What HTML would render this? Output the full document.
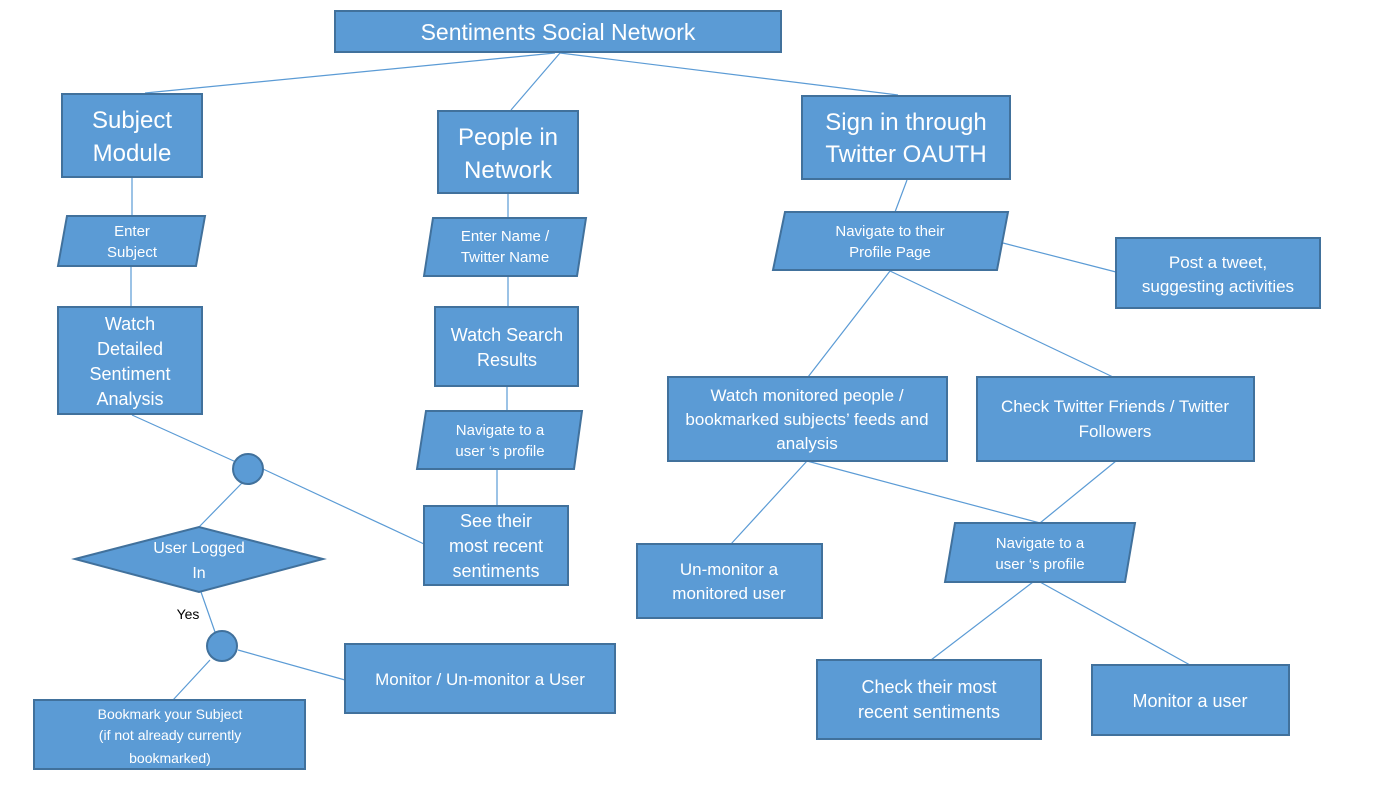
<!DOCTYPE html>
<html><head><meta charset="utf-8"><style>
html,body{margin:0;padding:0;background:#fff;width:1377px;height:796px;overflow:hidden}
svg text{font-family:"Liberation Sans",sans-serif;fill:#fff;text-anchor:middle}
</style></head><body>
<svg width="1377" height="796" viewBox="0 0 1377 796" xmlns="http://www.w3.org/2000/svg">
<g stroke="#5B9BD5" stroke-width="1.2" fill="none">
<line x1="145" y1="93" x2="555" y2="53"/>
<line x1="511" y1="110" x2="560" y2="53"/>
<line x1="898" y1="95" x2="560" y2="53"/>
<line x1="132" y1="178" x2="132" y2="216"/>
<line x1="131" y1="266" x2="131" y2="307"/>
<line x1="508" y1="194" x2="508" y2="218"/>
<line x1="508" y1="276" x2="508" y2="307"/>
<line x1="507" y1="386" x2="507" y2="411"/>
<line x1="497" y1="469" x2="497" y2="506"/>
<line x1="907" y1="180" x2="895" y2="212"/>
<line x1="1003" y1="243" x2="1116" y2="272"/>
<line x1="890" y1="271" x2="808" y2="377"/>
<line x1="890" y1="271" x2="1113" y2="377"/>
<line x1="132" y1="415" x2="236" y2="462"/>
<line x1="263" y1="469" x2="424" y2="544"/>
<line x1="242" y1="483" x2="199" y2="527"/>
<line x1="201" y1="592" x2="215" y2="632"/>
<line x1="238" y1="650" x2="345" y2="680"/>
<line x1="210" y1="660" x2="173" y2="700"/>
<line x1="807" y1="461" x2="731" y2="544"/>
<line x1="807" y1="461" x2="1040" y2="523"/>
<line x1="1116" y1="461" x2="1040" y2="523"/>
<line x1="1033" y1="582" x2="931" y2="660"/>
<line x1="1040" y1="582" x2="1190" y2="665"/>
</g>
<g fill="#5B9BD5" stroke="#41719C" stroke-width="2">
<rect x="335" y="11" width="446" height="41"/>
<rect x="62" y="94" width="140" height="83"/>
<rect x="438" y="111" width="140" height="82"/>
<rect x="802" y="96" width="208" height="83"/>
<polygon points="67,216 205,216 196,266 58,266"/>
<polygon points="433,218 586,218 577,276 424,276"/>
<polygon points="785,212 1008,212 997,270 773,270"/>
<rect x="1116" y="238" width="204" height="70"/>
<rect x="58" y="307" width="144" height="107"/>
<rect x="435" y="307" width="143" height="79"/>
<polygon points="426,411 582,411 574,469 417,469"/>
<rect x="424" y="506" width="144" height="79"/>
<circle cx="248" cy="469" r="15"/>
<polygon points="75,559 199,527 323,559 199,592"/>
<circle cx="222" cy="646" r="15"/>
<rect x="34" y="700" width="271" height="69"/>
<rect x="345" y="644" width="270" height="69"/>
<rect x="668" y="377" width="279" height="84"/>
<rect x="977" y="377" width="277" height="84"/>
<rect x="637" y="544" width="185" height="74"/>
<polygon points="955,523 1135,523 1125,582 945,582"/>
<rect x="817" y="660" width="224" height="79"/>
<rect x="1092" y="665" width="197" height="70"/>
</g>
<text x="558" y="40" font-size="23">Sentiments Social Network</text>
<text font-size="24"><tspan x="132" y="128">Subject</tspan><tspan x="132" y="161">Module</tspan></text>
<text font-size="24"><tspan x="508" y="145">People in</tspan><tspan x="508" y="178">Network</tspan></text>
<text font-size="24"><tspan x="906" y="130">Sign in through</tspan><tspan x="906" y="162">Twitter OAUTH</tspan></text>
<text font-size="15"><tspan x="132" y="236">Enter</tspan><tspan x="132" y="257">Subject</tspan></text>
<text font-size="15"><tspan x="505" y="241">Enter Name /</tspan><tspan x="505" y="262">Twitter Name</tspan></text>
<text font-size="15"><tspan x="890" y="236">Navigate to their</tspan><tspan x="890" y="257">Profile Page</tspan></text>
<text font-size="17"><tspan x="1218" y="268">Post a tweet,</tspan><tspan x="1218" y="292">suggesting activities</tspan></text>
<text font-size="18"><tspan x="130" y="330">Watch</tspan><tspan x="130" y="355">Detailed</tspan><tspan x="130" y="380">Sentiment</tspan><tspan x="130" y="405">Analysis</tspan></text>
<text font-size="18"><tspan x="507" y="341">Watch Search</tspan><tspan x="507" y="366">Results</tspan></text>
<text font-size="15"><tspan x="500" y="435">Navigate to a</tspan><tspan x="500" y="456">user ‘s profile</tspan></text>
<text font-size="18"><tspan x="496" y="527">See their</tspan><tspan x="496" y="552">most recent</tspan><tspan x="496" y="577">sentiments</tspan></text>
<text font-size="16"><tspan x="199" y="553">User Logged</tspan><tspan x="199" y="578">In</tspan></text>
<text x="188" y="619" font-size="14" style="fill:#000">Yes</text>
<text font-size="14"><tspan x="170" y="719">Bookmark your Subject</tspan><tspan x="170" y="740">(if not already currently</tspan><tspan x="170" y="763">bookmarked)</tspan></text>
<text x="480" y="685" font-size="17">Monitor / Un-monitor a User</text>
<text font-size="17"><tspan x="807" y="401">Watch monitored people /</tspan><tspan x="807" y="425">bookmarked subjects’ feeds and</tspan><tspan x="807" y="449">analysis</tspan></text>
<text font-size="17"><tspan x="1115" y="412">Check Twitter Friends / Twitter</tspan><tspan x="1115" y="437">Followers</tspan></text>
<text font-size="17"><tspan x="729" y="575">Un-monitor a</tspan><tspan x="729" y="599">monitored user</tspan></text>
<text font-size="15"><tspan x="1040" y="548">Navigate to a</tspan><tspan x="1040" y="569">user ‘s profile</tspan></text>
<text font-size="18"><tspan x="929" y="693">Check their most</tspan><tspan x="929" y="718">recent sentiments</tspan></text>
<text x="1190" y="707" font-size="18">Monitor a user</text>
</svg>
</body></html>
